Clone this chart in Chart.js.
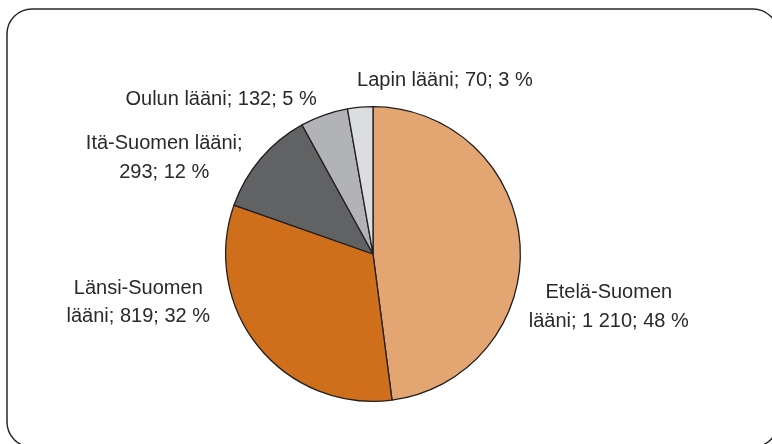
<!DOCTYPE html>
<html>
<head>
<meta charset="utf-8">
<script src="https://cdn.jsdelivr.net/npm/chart.js@4.4.0/dist/chart.umd.min.js"></script>
<style>
  html, body { margin: 0; padding: 0; background: #fff; }
  #wrap { width: 772px; height: 444px; }
</style>
</head>
<body>
<div id="wrap"><canvas id="pie" width="772" height="444"></canvas></div>
<script>
// data
const regions = ['Etelä-Suomen lääni', 'Länsi-Suomen lääni', 'Itä-Suomen lääni', 'Oulun lääni', 'Lapin lääni'];
const counts = [1210, 819, 293, 132, 70];
const sliceColors = ['#e3a672', '#cf6f1b', '#616264', '#b1b3b6', '#dcdddf'];
// words on first line of label (0 = single line)
const labelBreaks = [1, 1, 2, 0, 0];
// label centre relative to pie centre, in pie radii
const labelPos = [[1.600, 0.36], [-1.593, 0.33], [-1.417, -0.65], [-1.031, -1.047], [0.488, -1.176]];

const total = counts.reduce((a, b) => a + b, 0);

function fmt(n) {
    return String(n).replace(/\B(?=(\d{3})+(?!\d))/g, ' ');
}

function labelLines(i) {
    const pct = Math.round(counts[i] / total * 100);
    const words = (regions[i] + '; ' + fmt(counts[i]) + '; ' + pct + ' %').split(' ');
    const n = labelBreaks[i];
    if (n === 0) return [words.join(' ')];
    return [words.slice(0, n).join(' '), words.slice(n).join(' ')];
}

const framePlugin = {
    id: 'frame',
    beforeDraw(chart) {
        const c = chart.ctx;
        const x = 7, y = 9, w = 771, h = 438, r = 25;
        c.save();
        c.strokeStyle = '#2a2a2a';
        c.lineWidth = 1.5;
        c.beginPath();
        c.moveTo(x + r, y);
        c.lineTo(x + w - r, y);
        c.arcTo(x + w, y, x + w, y + r, r);
        c.lineTo(x + w, y + h - r);
        c.arcTo(x + w, y + h, x + w - r, y + h, r);
        c.lineTo(x + r, y + h);
        c.arcTo(x, y + h, x, y + h - r, r);
        c.lineTo(x, y + r);
        c.arcTo(x, y, x + r, y, r);
        c.closePath();
        c.stroke();
        c.restore();
    }
};

const labelPlugin = {
    id: 'sliceLabels',
    afterDatasetsDraw(chart) {
        const c = chart.ctx;
        const arcs = chart.getDatasetMeta(0).data;
        c.save();
        c.fillStyle = '#2b2829';
        c.font = '20px "Liberation Sans", Arial, sans-serif';
        c.textAlign = 'center';
        c.textBaseline = 'middle';
        const lh = 28.5;
        arcs.forEach(function (arc, i) {
            const lines = labelLines(i);
            const cx = arc.x + labelPos[i][0] * arc.outerRadius;
            const cy = arc.y + labelPos[i][1] * arc.outerRadius;
            const top = cy - (lines.length - 1) * lh / 2;
            lines.forEach(function (t, j) {
                c.fillText(t, cx, top + j * lh);
            });
        });
        c.restore();
    }
};

new Chart(document.getElementById('pie'), {
    type: 'pie',
    data: {
        labels: regions,
        datasets: [{
            data: counts,
            backgroundColor: sliceColors,
            borderColor: '#231f20',
            borderWidth: 1.3
        }]
    },
    options: {
        responsive: false,
        animation: false,
        layout: { padding: { left: 225, right: 251, top: 106, bottom: 42 } },
        plugins: {
            legend: { display: false },
            tooltip: { enabled: false }
        }
    },
    plugins: [framePlugin, labelPlugin]
});
</script>
</body>
</html>
